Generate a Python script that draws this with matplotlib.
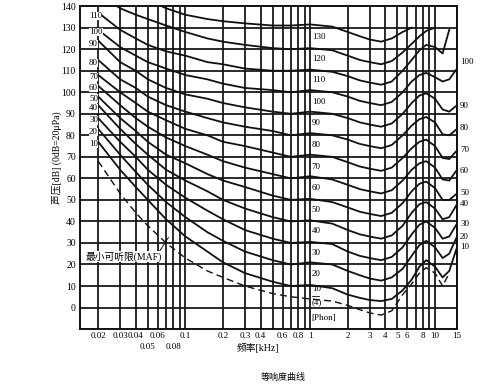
import numpy as np
import matplotlib
matplotlib.use('Agg')
import matplotlib.pyplot as plt
from matplotlib.ticker import NullLocator
from matplotlib.transforms import blended_transform_factory

plt.rcParams['font.family'] = ['Liberation Serif', 'Noto Sans CJK SC']

nan = np.nan

# frequencies in kHz
freq = [0.02, 0.03, 0.04, 0.05, 0.07, 0.1, 0.15, 0.2, 0.3, 0.5, 0.7, 1,
        1.5, 2, 2.5, 3, 3.7, 4.5, 5.5, 6.5, 7.5, 8.5, 10, 11.5, 13, 15]

# sound pressure level (dB) of each equal loudness contour
phon10 = [77, 64, 56, 50, 41, 33, 26, 21, 16, 12, 10, 10.5,
          9, 6, 4.5, 3.5, 3, 4, 8, 13, 19, 22, 19, 14, 17, 28]
phon20 = [83, 71, 63, 57, 49, 42, 35, 31, 26, 22, 20, 21,
          20, 17, 15, 13.5, 12.5, 14, 18, 24, 29, 31, 28, 23, 25, 33]
phon30 = [88, 77, 70, 64, 57, 51, 45, 41, 36, 32, 30, 30.5,
          29.5, 26, 24, 23, 22, 23.5, 28, 34, 38.5, 40, 37, 32, 33, 39]
phon40 = [94, 83, 76, 71, 64, 59, 54, 50, 46, 42, 40, 40.5,
          39, 36, 34, 33, 32, 33.5, 38, 44, 48, 49, 46, 41, 42, 48]
phon50 = [98, 88, 82, 77, 71, 67, 62, 59, 56, 52, 50, 50.5,
          49, 46.5, 44.5, 43.5, 42.5, 44, 48.5, 54, 57.5, 58.5, 55.5, 50, 50, 53]
phon60 = [103, 94, 88, 84, 79, 75, 71, 68, 65, 62, 60, 61,
          59.5, 57, 55, 54, 53, 54.5, 59, 64, 67, 68, 65, 59.5, 59, 64]
phon70 = [108, 100, 95, 91, 87, 83, 80, 77, 75, 72, 70, 71,
          70, 67.5, 65.5, 64.5, 63.5, 65, 69.5, 74, 77, 78, 75, 69.5, 69, 73]
phon80 = [115, 106, 102, 98, 94, 91, 88, 86, 84, 82, 80, 81,
          80, 78, 76, 75, 74, 75.5, 80, 84.5, 87.5, 88.5, 86, 80.5, 80, 83]
phon90 = [124, 114, 110, 106, 102, 99, 97, 95, 93, 91, 90, 91,
          90, 88, 86, 85, 84, 85.5, 90, 95, 98.5, 99.5, 97, 92, 91, 94]
phon100 = [129, 121, 117, 114, 111, 108, 106, 104, 102, 101, 100, 101,
           100, 98, 96, 95, 94, 95.5, 100, 105, 108, 109, 107, 105, 106, 111]
phon110 = [137, 129, 125, 122, 119, 117, 114, 113, 111, 110, 110, 110.5,
           109.5, 107.5, 105.5, 104.5, 103.5, 105, 110, 115, 119.5, 122, 121, 118, 129, nan]
phon120 = [146, 139, 136, 134, 131, 128, 125, 123.5, 122, 120.5, 120, 120.5,
           119.5, 117, 115, 114, 113, 114.5, 118.5, 122.5, 126, 128.5, 130, nan, nan, nan]
phon130 = [156, 151, 147, 143, 139, 136, 134, 133, 132, 131, 131, 131.5,
           130.5, 128, 126, 124.5, 123.5, 125, 128, 130, nan, nan, nan, nan, nan, nan]
maf = [68, 53, 44, 38, 30, 23, 17, 14, 10, 6.5, 5, 4,
       3, 1, -1, -2.5, -3.5, -1.5, 6, 11, 16, 18.5, 16, 10, 16, nan]

levels = [10, 20, 30, 40, 50, 60, 70, 80, 90, 100, 110, 120, 130]
curves = [phon10, phon20, phon30, phon40, phon50, phon60, phon70,
          phon80, phon90, phon100, phon110, phon120, phon130]

# labels on the left and right edge (dB where the text sits)
left_lab = [10, 20, 30, 40, 50, 60, 70, 80, 90, 100, 110]
left_y = [76, 81.5, 87, 92.5, 97, 102, 107, 113.5, 122.5, 128, 135.5]
right_lab = [10, 20, 30, 40, 50, 60, 70, 80, 90, 100]
right_y = [28, 33, 39, 48, 53, 63.5, 73, 83.5, 93.5, 114]

grid_f = [0.02, 0.03, 0.04, 0.05, 0.06, 0.07, 0.08, 0.09, 0.1,
          0.2, 0.3, 0.4, 0.5, 0.6, 0.7, 0.8, 0.9, 1,
          2, 3, 4, 5, 6, 7, 8, 9, 10, 15]
tick_f = [0.02, 0.03, 0.04, 0.06, 0.1, 0.2, 0.3, 0.4, 0.6, 0.8,
          1, 2, 3, 4, 5, 6, 8, 10, 15]
tick_txt = ['0.02', '0.03', '0.04', '0.06', '0.1', '0.2',
            '0.3', '0.4', '0.6', '0.8', '1', '2', '3', '4', '5', '6', '8',
            '10', '15']
tick2_f = [0.05, 0.08]
tick2_txt = ['0.05', '0.08']

ink = '#111111'

fig = plt.figure(figsize=(5, 3.84), dpi=100)
ax = fig.add_axes([0.16, 0.143, 0.754, 0.841])
ax.set_xscale('log')
ax.set_xlim(0.0143, 15)
ax.set_ylim(-10, 140)

# grid
for f in grid_f:
    ax.axvline(f, color=ink, lw=1.25, zorder=1)
for y in range(0, 140, 10):
    ax.axhline(y, color=ink, lw=1.25, zorder=1)

# contours
for lev, c in zip(levels, curves):
    ax.plot(freq, c, color=ink, lw=1.3, zorder=2)
ax.plot(freq, maf, color=ink, lw=1.0, dashes=(5, 3), zorder=2)

# level labels at 1 kHz
for lev in levels:
    if lev == 10:
        continue
    ax.text(1.03, lev - 4.5, str(lev), fontsize=6.5, va='center', ha='left',
            zorder=3)
ax.text(1.03, 8.5, '10', fontsize=6.5, va='center', ha='left')
ax.plot([1.03, 1.17], [5.3, 5.3], color=ink, lw=0.6)
ax.text(1.03, 2.5, '(4)', fontsize=6.5, va='center', ha='left')
ax.text(1.03, -5, '[Phon]', fontsize=6.5, va='center', ha='left')

trans = blended_transform_factory(ax.transAxes, ax.transData)
for lab, y in zip(left_lab, left_y):
    ax.text(0.024, y, str(lab), fontsize=6.5, va='center', ha='left',
            transform=trans,
            bbox=dict(facecolor='white', edgecolor='none', pad=0.2))
for lab, y in zip(right_lab, right_y):
    ax.text(1.008, y, str(lab), fontsize=6.5, va='center', ha='left',
            transform=trans, clip_on=False)

# MAF note
ax.text(0.117, 23.5, '最小可听限(MAF)', fontsize=7, ha='center', va='center',
        transform=trans,
        bbox=dict(facecolor='white', edgecolor='none', pad=0.3))
ax.plot([0.061, 0.073], [25.5, 32.5], color=ink, lw=0.7)

# axes styling
for s in ax.spines.values():
    s.set_linewidth(1.4)
    s.set_color(ink)
ax.xaxis.set_minor_locator(NullLocator())
ax.set_xticks(tick_f)
ax.set_xticklabels(tick_txt, fontsize=6.5)
ax.set_yticks(range(0, 150, 10))
ax.set_yticklabels([str(v) for v in range(0, 150, 10)], fontsize=7)
ax.tick_params(axis='y', length=0, pad=3)
ax.tick_params(axis='x', length=0, pad=2)

# second row of frequency labels
trans_x = blended_transform_factory(ax.transData, ax.transAxes)
for f, t in zip(tick2_f, tick2_txt):
    ax.text(f, -0.057, t, fontsize=6.5, ha='center', va='center',
            transform=trans_x)

fig.text(0.516, 0.094, '频率[kHz]', fontsize=7, ha='center', va='center')
fig.text(0.114, 0.59, '声压[dB] (0dB=20μPa)', fontsize=7, rotation=90,
         ha='center', va='center')
fig.text(0.566, 0.018, '等响度曲线', fontsize=6.5, ha='center', va='center')

fig.savefig('out.png', dpi=100)
